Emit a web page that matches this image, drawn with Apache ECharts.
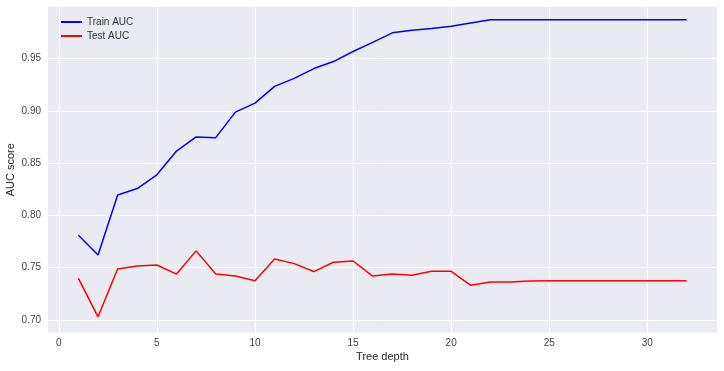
<!DOCTYPE html>
<html>
<head>
<meta charset="utf-8">
<script src="https://cdn.jsdelivr.net/npm/echarts@6/dist/echarts.min.js"></script>
<style>html,body{margin:0;padding:0;background:#fff;}#c{width:724px;height:371px;}</style>
</head>
<body>
<div id="c"></div>
<script>
var depths = [];
for (var i = 1; i <= 32; i++) depths.push(i);
var trainAUC = [0.781, 0.762, 0.8195, 0.8256, 0.8388, 0.8615, 0.875, 0.8743, 0.8987, 0.9073,
  0.9234, 0.931, 0.9404, 0.9471, 0.9567, 0.9654, 0.9746, 0.977, 0.9788, 0.9808,
  0.984, 0.987, 0.987, 0.987, 0.987, 0.987, 0.987, 0.987, 0.987, 0.987, 0.987, 0.987];
var testAUC = [0.7397, 0.7029, 0.7487, 0.7515, 0.7525, 0.7438, 0.766, 0.7438, 0.7419, 0.7375,
  0.7583, 0.7538, 0.7462, 0.7551, 0.7563, 0.7419, 0.7438, 0.7426, 0.7464, 0.7464,
  0.733, 0.7362, 0.7362, 0.7371, 0.7375, 0.7375, 0.7375, 0.7375, 0.7375, 0.7375, 0.7375, 0.7375];
var xTicks = [0, 5, 10, 15, 20, 25, 30];
var yTicks = [0.70, 0.75, 0.80, 0.85, 0.90, 0.95];

var font = '"Liberation Sans", Arial, sans-serif';
var chart = echarts.init(document.getElementById('c'));
function pairs(ys) { return depths.map(function (d, i) { return [d, ys[i]]; }); }
chart.setOption({
  animation: false,
  textStyle: { fontFamily: font },
  grid: { left: 48, right: 7, top: 7, bottom: 38.5, show: true, backgroundColor: '#EAEAF2', borderWidth: 0,
    containLabel: false, outerBoundsMode: 'none' },
  legend: {
    left: 56, top: 12, orient: 'vertical', itemWidth: 21, itemHeight: 2, itemGap: 4, icon: 'rect',
    textStyle: { fontFamily: font, fontSize: 10, color: '#333' },
    data: ['Train AUC', 'Test AUC']
  },
  xAxis: {
    type: 'value', min: -0.55, max: 33.55,
    name: 'Tree depth', nameLocation: 'middle', nameGap: 19, nameMoveOverlap: false,
    nameTextStyle: { fontFamily: font, fontSize: 11, color: '#262626' },
    axisLine: { show: false }, axisTick: { show: false, customValues: xTicks },
    axisLabel: { customValues: xTicks, fontSize: 10, color: '#444', margin: 6, fontFamily: font },
    splitLine: { show: true, lineStyle: { color: '#fff', width: 1 } }
  },
  yAxis: {
    type: 'value', min: 0.6879, max: 0.9993,
    name: 'AUC score', nameLocation: 'middle', nameGap: 32, nameMoveOverlap: false,
    nameTextStyle: { fontFamily: font, fontSize: 11, color: '#262626' },
    axisLine: { show: false }, axisTick: { show: false, customValues: yTicks },
    axisLabel: { customValues: yTicks, fontSize: 10, color: '#444', margin: 7, fontFamily: font,
      formatter: function (v) { return v.toFixed(2); } },
    splitLine: { show: true, lineStyle: { color: '#fff', width: 1 } }
  },
  series: [
    { name: 'Train AUC', type: 'line', data: pairs(trainAUC), symbol: 'none',
      lineStyle: { color: '#0000FF', width: 1.5 }, itemStyle: { color: '#0000FF' } },
    { name: 'Test AUC', type: 'line', data: pairs(testAUC), symbol: 'none',
      lineStyle: { color: '#FF0000', width: 1.5 }, itemStyle: { color: '#FF0000' } }
  ]
});
</script>
</body>
</html>
